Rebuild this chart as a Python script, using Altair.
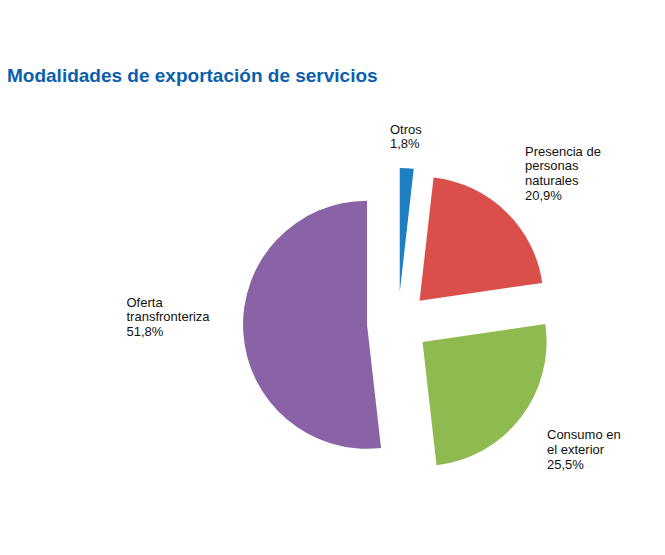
import altair as alt
import pandas as pd

# ---- data ----
categories = ["Otros", "Presencia de personas naturales", "Consumo en el exterior", "Oferta transfronteriza"]
values = [1.8, 20.9, 25.5, 51.8]
label_texts = ["Otros\n1,8%", "Presencia de\npersonas\nnaturales\n20,9%", "Consumo en\nel exterior\n25,5%", "Oferta\ntransfronteriza\n51,8%"]
colors = ["#1f7fc3", "#da4f4a", "#8fba50", "#8a62a6"]
title_text = "Modalidades de exportación de servicios"

# ---- layout (pixels, chart coordinates) ----
CX, CY = 390, 315
RADIUS = 124
EXPLODE = 31
label_x = [382, 517, 539, 118.5]
label_y = [125.5, 147.7, 431.3, 298.5]

W, H = 649, 539

df = pd.DataFrame({"category": categories, "value": values, "order": list(range(len(values)))})
labels_df = pd.DataFrame({"label": label_texts, "lx": label_x, "ly": label_y})
title_df = pd.DataFrame({"t": [title_text]})

pie = alt.Chart(df).transform_joinaggregate(
    total="sum(value)"
).transform_window(
    cum="sum(value)", sort=[alt.SortField("order")], frame=[None, 0]
).transform_calculate(
    t1="2*PI*datum.cum/datum.total",
    t0="2*PI*(datum.cum-datum.value)/datum.total",
    mid="(datum.t0+datum.t1)/2",
    cx=f"{CX}+{EXPLODE}*sin(datum.mid)",
    cy=f"{CY}-{EXPLODE}*cos(datum.mid)",
).mark_arc(radius=RADIUS).encode(
    theta=alt.Theta("t0:Q", scale=None),
    theta2="t1:Q",
    x=alt.X("cx:Q", scale=None, axis=None),
    y=alt.Y("cy:Q", scale=None, axis=None),
    color=alt.Color("category:N", scale=alt.Scale(domain=categories, range=colors), legend=None),
)

labels = alt.Chart(labels_df).mark_text(
    align="left", baseline="alphabetic", font="Liberation Sans", fontSize=13, lineHeight=14.8,
    lineBreak="\n", color="#111111"
).encode(
    x=alt.X("lx:Q", scale=None, axis=None),
    y=alt.Y("ly:Q", scale=None, axis=None),
    text="label:N",
)

title = alt.Chart(title_df).mark_text(
    align="left", baseline="alphabetic", font="Liberation Sans", fontSize=19,
    color="#0b5fad", fontWeight="bold"
).encode(
    x=alt.value(-1),
    y=alt.value(74),
    text="t:N",
)

chart = alt.layer(pie, labels, title).properties(
    width=W, height=H, autosize=alt.AutoSizeParams(type="none"), padding=0
).configure_view(stroke=None)

chart.save("out.html", embed_options={"renderer": "svg", "actions": False})
